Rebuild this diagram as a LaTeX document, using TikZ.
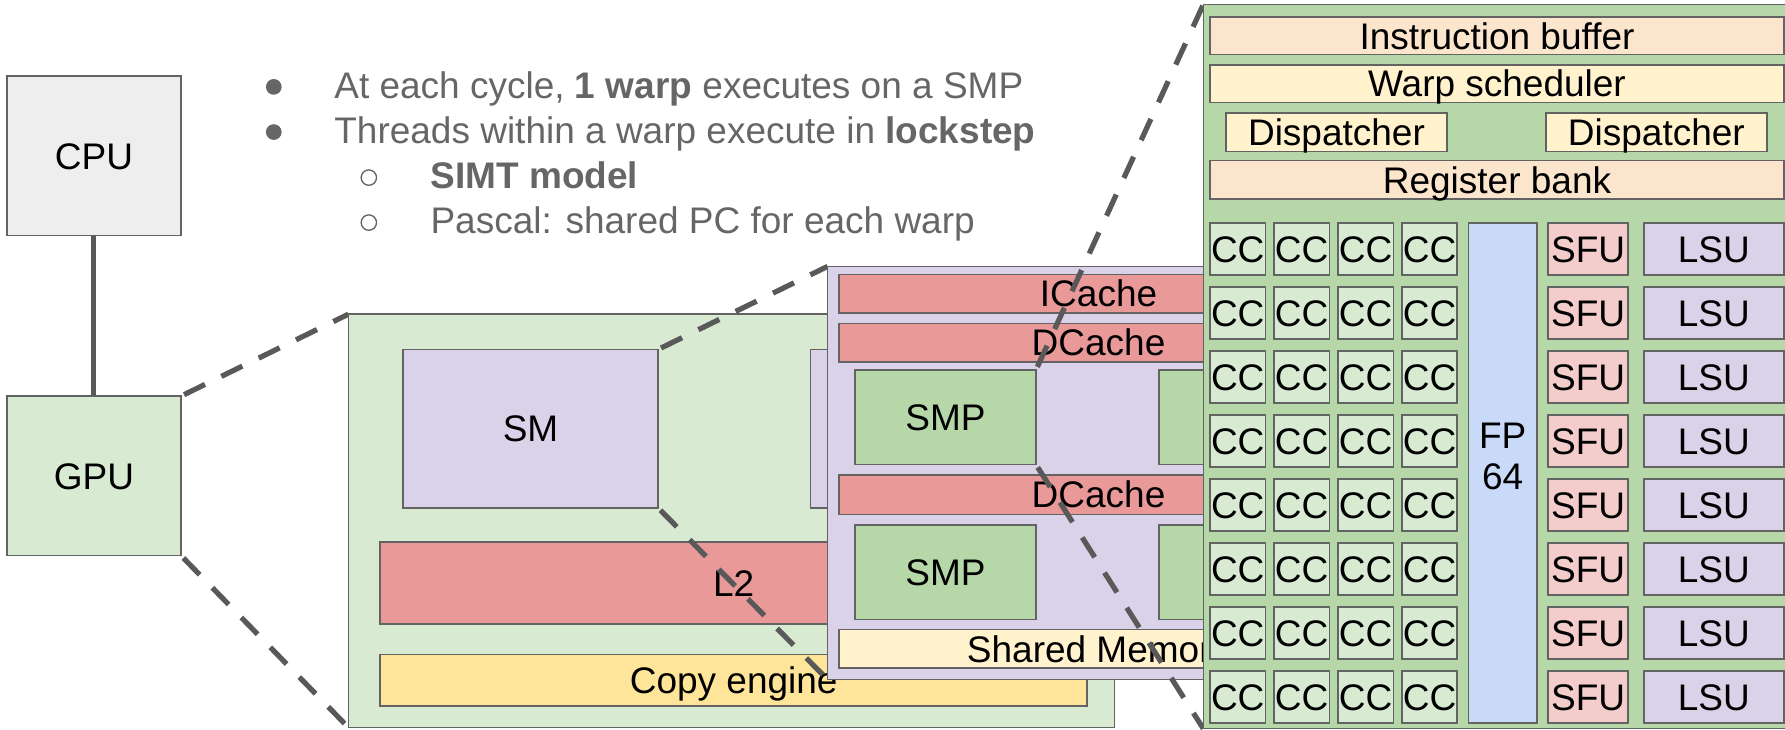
\documentclass[tikz,border=0pt]{standalone}
\usepackage{fontspec}
\setmainfont{Liberation Sans}
\definecolor{bord}{HTML}{636363}
\definecolor{dk}{HTML}{595959}
\definecolor{txtgray}{HTML}{666666}
\definecolor{cpufill}{HTML}{EEEEEE}
\definecolor{lgreen}{HTML}{D9EAD3}
\definecolor{mgreen}{HTML}{B6D7A8}
\definecolor{lav}{HTML}{D9D2E9}
\definecolor{redone}{HTML}{EA9999}
\definecolor{yel}{HTML}{FFE599}
\definecolor{cream}{HTML}{FFF2CC}
\definecolor{peach}{HTML}{FCE5CD}
\definecolor{blueone}{HTML}{C9DAF8}
\definecolor{pinkone}{HTML}{F4CCCC}
\newcommand\lblfont{\fontsize{32.5}{37}\selectfont}
\begin{document}
\begin{tikzpicture}[x=1pt,y=-1pt,
  box/.style={draw=bord,line width=1.4pt,inner sep=0pt,outer sep=0pt,anchor=north west,font=\lblfont,text height=23.3pt,text depth=0pt},
  plainlbl/.style={font=\lblfont,inner sep=0pt,anchor=base},
  dashlink/.style={draw=dk,line width=4.6pt,dash pattern=on 20.5pt off 16pt,dash phase=-3pt},
  solidlink/.style={draw=dk,line width=4.5pt},
  bullettext/.style={text=txtgray,font=\lblfont,anchor=base west,inner sep=0pt},
  dot/.style={circle,fill=txtgray,minimum size=13.8pt,inner sep=0pt},
  ring/.style={circle,draw=txtgray,line width=1.2pt,minimum size=13.5pt,inner sep=0pt},
]
\useasboundingbox (0,0) rectangle (1568,641);
\clip (0,0) rectangle (1568,641);

% host side
\node[box,fill=cpufill,minimum width=153pt,minimum height=140pt] (cpu) at (6,67) {CPU};
\node[box,fill=lgreen,minimum width=153pt,minimum height=140pt] (gpu) at (6,348) {GPU};
\draw[solidlink] (cpu.south) -- (gpu.north);

% GPU detail
\coordinate (gdNW) at (306,276);
\coordinate (gdSW) at (306,639);
\draw[dashlink] (gpu.north east) -- (gdNW);
\draw[dashlink] (gpu.south east) -- (gdSW);
\node[box,fill=lgreen,minimum width=673pt,minimum height=363pt] (gpudet) at (gdNW) {};
\node[box,fill=lav,minimum width=224pt,minimum height=139pt] (sm1) at (354,307) {SM};
\node[box,fill=lav,minimum width=224pt,minimum height=139pt] (sm2) at (712,307) {};
\node[box,fill=redone,minimum width=621pt,minimum height=72pt] (l2) at (334,476) {L2};
\node[box,fill=yel,minimum width=621pt,minimum height=45pt] (copy) at (334,575) {Copy engine};

% SM detail
\coordinate (sdNW) at (727,234);
\coordinate (sdSW) at (727,597);
\draw[dashlink] (sm1.north east) -- (sdNW);
\draw[dashlink] (sm1.south east) -- (sdSW);
\node[box,fill=lav,minimum width=420pt,minimum height=363pt] (smdet) at (sdNW) {};
\node[box,fill=redone,minimum width=456pt,minimum height=34pt] (icache) at (737,241) {ICache};
\node[box,fill=redone,minimum width=456pt,minimum height=34pt] (dcache1) at (737,284) {DCache};
\node[box,fill=mgreen,minimum width=159pt,minimum height=83pt] (smp1) at (751,325) {SMP};
\node[box,fill=mgreen,minimum width=159pt,minimum height=83pt] (smp2) at (1018,325) {};
\node[box,fill=redone,minimum width=456pt,minimum height=35pt] (dcache2) at (737,417) {DCache};
\node[box,fill=mgreen,minimum width=159pt,minimum height=83pt] (smp3) at (751,461) {SMP};
\node[box,fill=mgreen,minimum width=159pt,minimum height=83pt] (smp4) at (1018,461) {};
\node[box,fill=cream,minimum width=456pt,minimum height=34pt] (shmem) at (737,553) {Shared Memory};

% SMP detail
\coordinate (pdNW) at (1057,4);
\coordinate (pdSW) at (1057,640);
\draw[dashlink] (smp1.north east) -- (pdNW);
\draw[dashlink] (smp1.south east) -- (pdSW);
\node[box,fill=mgreen,minimum width=600pt,minimum height=636pt] (smpdet) at (pdNW) {};
\node[box,fill=peach,minimum width=504pt,minimum height=33pt] (ibuf) at (1063,15) {Instruction buffer};
\node[box,fill=cream,minimum width=504pt,minimum height=33pt] (wsched) at (1063,57) {Warp scheduler};
\node[box,fill=cream,minimum width=194pt,minimum height=34pt] (disp1) at (1077,99) {Dispatcher};
\node[box,fill=cream,minimum width=194pt,minimum height=34pt] (disp2) at (1358,99) {Dispatcher};
\node[box,fill=peach,minimum width=504pt,minimum height=34pt] (regbank) at (1063,141) {Register bank};
\foreach \r in {0,...,7}{
  \foreach \c in {0,...,3}{
    \node[box,fill=lgreen,minimum width=48.5pt,minimum height=45.5pt] (cc-\r-\c) at ({1063+56.2*\c},{196+56.2*\r}) {CC};
  }
  \node[box,fill=pinkone,minimum width=70pt,minimum height=45.5pt] (sfu-\r) at (1360,{196+56.2*\r}) {SFU};
  \node[box,fill=lav,minimum width=123pt,minimum height=45.5pt] (lsu-\r) at (1444,{196+56.2*\r}) {LSU};
}
\node[box,fill=blueone,minimum width=60pt,minimum height=439pt] (fp64) at (1290,196) {};
\node[plainlbl] (fplabA) at (1320,393.6) {FP};
\node[plainlbl] (fplabB) at (1320,430.4) {64};

% bullet text
\node[dot] (d1) at (240.5,76.3) {};
\node[bullettext] (t1) at (293.5,86.4) {At each cycle, \textbf{1 warp} executes on a SMP};
\node[dot] (d2) at (240.5,116) {};
\node[bullettext] (t2) at (293.5,125.9) {Threads within a warp execute in \textbf{lockstep}};
\node[ring] (r1) at (324,156) {};
\node[bullettext] (t3) at (378,165.4) {\textbf{SIMT model}};
\node[ring] (r2) at (324,195.5) {};
\node[bullettext] (t4) at (378,204.9) {Pascal: shared PC for each warp};
\end{tikzpicture}
\end{document}
